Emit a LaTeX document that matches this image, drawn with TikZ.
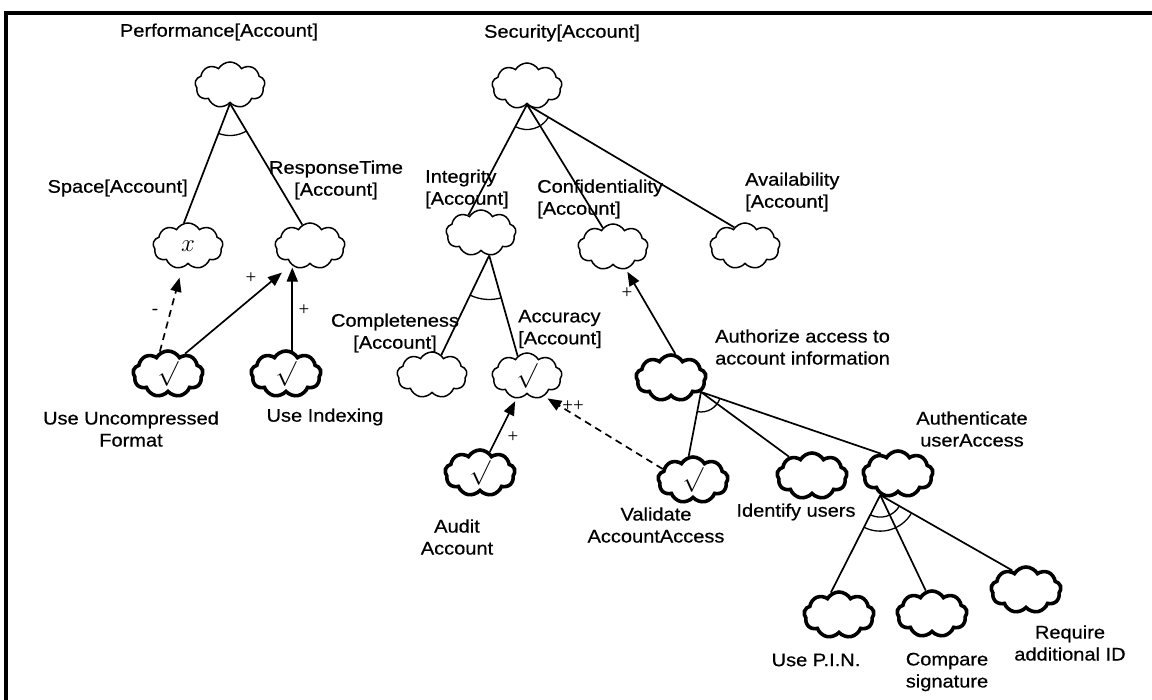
\documentclass[tikz,border=0pt]{standalone}
\usepackage{fontspec}
\setmainfont{Liberation Sans}[FakeStretch=1.1,FakeBold=0.6]
\newfontfamily\signfont{Liberation Serif}
\usetikzlibrary{shapes.symbols,arrows.meta,angles,calc}
\begin{document}
\begin{tikzpicture}[x=1pt,y=1pt,
  goal/.style={cloud, cloud puffs=9, cloud puff arc=120, aspect=1.5, draw,
    line width=1.5pt, minimum width=70pt, minimum height=46pt, inner sep=0pt},
  opn/.style={goal, line width=3.6pt},
  txt/.style={font=\fontsize{18.2}{22}\selectfont, inner sep=0pt},
  sgn/.style={font=\signfont\fontsize{19}{19}\selectfont, inner sep=0pt},
  chkmark/.style={font=\fontsize{26}{26}\selectfont, inner sep=0pt},
  link/.style={line width=1.7pt},
  arr/.style={link, -{Triangle[length=14pt,width=11pt]}},
  dsh/.style={arr, dash pattern=on 7pt off 5pt},
  andarc/.style={draw, line width=1.3pt, angle radius=#1}]
\useasboundingbox (0,0) rectangle (1152,-700);

% frame
\draw[line width=3.2pt] (6,-710) -- (6,-13) -- (1160,-13);

% softgoals and operationalisations
\node[goal, label={[chkmark,font=\fontsize{28}{28}\selectfont]center:$x$}] (space) at (188,-246) {};
\node[goal] (perf) at (230,-85) {};
\node[goal] (rt) at (310,-246) {};
\node[opn, label={[chkmark]center:$\surd$}] (unc) at (168,-374) {};
\node[opn, label={[chkmark]center:$\surd$}] (idx) at (286,-374) {};
\node[goal] (sec) at (527,-86) {};
\node[goal] (integ) at (481,-233) {};
\node[goal] (conf) at (613,-247) {};
\node[goal] (avail) at (745,-246) {};
\node[goal] (compl) at (432,-375) {};
\node[goal, label={[chkmark]center:$\surd$}] (acc) at (527,-376) {};
\node[opn, label={[chkmark]center:$\surd$}] (audit) at (480,-473) {};
\node[opn] (auth) at (671,-378) {};
\node[opn, label={[chkmark]center:$\surd$}] (val) at (693,-480) {};
\node[opn] (ident) at (812,-476) {};
\node[opn] (authen) at (898,-474) {};
\node[opn] (pin) at (839,-615) {};
\node[opn] (comp) at (932,-614) {};
\node[opn] (req) at (1026,-590) {};

% attachment points of the decomposition links
\coordinate (perfB) at (perf.south);
\coordinate (spaceT) at (space.100);
\coordinate (rtT) at (rt.110);
\coordinate (secB) at (sec.south);
\coordinate (integT) at (integ.125);
\coordinate (confT) at (conf.118);
\coordinate (availT) at (avail.120);
\coordinate (integB) at (integ.290);
\coordinate (complT) at (compl.65);
\coordinate (accT) at (acc.115);
\coordinate (authB) at (auth.335);
\coordinate (valT) at (val.100);
\coordinate (identT) at (ident.140);
\coordinate (authenT) at (authen.130);
\coordinate (authenB) at (authen.230);
\coordinate (pinT) at (pin.110);
\coordinate (compT) at (comp.105);
\coordinate (reqT) at (req.125);

% labels
\node[txt] (tPerf) at (219,-32) {Performance[Account]};
\node[txt] (tSec) at (562,-33) {Security[Account]};
\node[txt, anchor=east] (tSpace) at (188,-188) {Space[Account]};
\node[txt, align=center] (tRT) at (336,-180) {ResponseTime\\{}[Account]};
\node[txt, align=left, anchor=west] (tInteg) at (425,-189) {Integrity\\{}[Account]};
\node[txt, align=left, anchor=west] (tConf) at (537,-199) {Confidentiality\\{}[Account]};
\node[txt, align=left, anchor=west] (tAvail) at (745,-192) {Availability\\{}[Account]};
\node[txt, align=center] (tCompl) at (395,-333) {Completeness\\{}[Account]};
\node[txt, align=left, anchor=west] (tAcc) at (518,-329) {Accuracy\\{}[Account]};
\node[txt, align=center] (tUnc) at (131,-429) {Use Uncompressed\\Format};
\node[txt] (tIdx) at (325,-417) {Use Indexing};
\node[txt, align=center] (tAudit) at (457,-537) {Audit\\Account};
\node[txt, align=center] (tVal) at (656,-525) {Validate\\AccountAccess};
\node[txt, align=left, anchor=west] (tAuth) at (715,-347) {Authorize access to\\account information};
\node[txt] (tIdent) at (796,-512) {Identify users};
\node[txt, align=center] (tAuthen) at (972,-429) {Authenticate\\userAccess};
\node[txt] (tPin) at (816,-660) {Use P.I.N.};
\node[txt, align=center] (tComp) at (947,-672) {Compare\\signature};
\node[txt, align=center] (tReq) at (1070,-643) {Require\\additional ID};

% AND decompositions
\draw[link] (perfB) -- (spaceT);
\draw[link] (perfB) -- (rtT);
\pic[andarc=32pt] {angle = spaceT--perfB--rtT};

\draw[link] (secB) -- (integT);
\draw[link] (secB) -- (confT);
\draw[link] (secB) -- (availT);
\pic[andarc=25pt] {angle = integT--secB--availT};

\draw[link] (integB) -- (complT);
\draw[link] (integB) -- (accT);
\pic[andarc=44pt] {angle = complT--integB--accT};

\draw[link] (authB) -- (valT);
\draw[link] (authB) -- (identT);
\draw[link] (authB) -- (authenT);
\pic[andarc=20pt] {angle = valT--authB--authenT};

\draw[link] (authenB) -- (pinT);
\draw[link] (authenB) -- (compT);
\draw[link] (authenB) -- (reqT);
\pic[andarc=22pt] {angle = pinT--authenB--reqT};
\pic[andarc=36pt] {angle = pinT--authenB--reqT};

% contributions
\draw[dsh, shorten >=10pt] (unc.110) -- (space.255);
\draw[arr, shorten >=12pt] (unc.50) -- (rt.225);
\draw[arr, shorten >=3pt] (idx.75) -- (idx.75 |- rt.south);
\draw[arr, shorten >=3pt] (auth.80) -- (conf.300);
\draw[arr, shorten >=3pt] (audit.65) -- (acc.245);
\draw[dsh, shorten >=4pt] (val.160) -- (acc.310);

\node[sgn] (sMinus) at (155,-312) {-};
\node[sgn] (sPlusA) at (251,-278) {+};
\node[sgn] (sPlusB) at (304,-310) {+};
\node[sgn] (sPlusC) at (627,-293) {+};
\node[sgn] (sPlusD) at (513,-437) {+};
\node[sgn] (sPlusE) at (573,-406) {++};
\end{tikzpicture}
\end{document}
